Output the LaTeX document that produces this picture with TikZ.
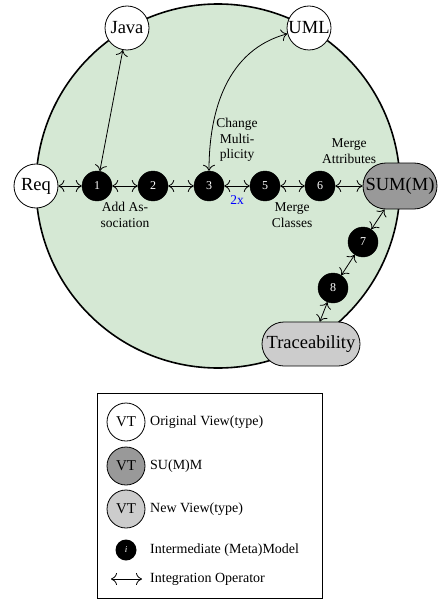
\documentclass[tikz,border=0pt]{standalone}
\usepackage{fontspec}
\setmainfont{Liberation Serif}
\usetikzlibrary{arrows.meta}
\definecolor{bggreen}{HTML}{D5E8D4}
\definecolor{summ}{HTML}{999999}
\definecolor{newv}{HTML}{CCCCCC}
\begin{document}
\begin{tikzpicture}[x=1pt,y=1pt,
  >={Computer Modern Rightarrow[length=6pt,width=12pt]},
  view/.style={circle,draw,fill=white,line width=0.8pt,minimum size=44pt,inner sep=0pt,font=\fontsize{18.5}{20}\selectfont},
  inter/.style={circle,fill=black,draw=black,minimum size=30pt,inner sep=0pt,text=white,font=\fontsize{12}{14}\selectfont},
  pill/.style={rectangle,draw,line width=0.8pt,inner sep=0pt,font=\fontsize{18.5}{20}\selectfont},
  conn/.style={<->,line width=0.8pt},
  elabel/.style={font=\fontsize{13.5}{15.5}\selectfont,align=center,inner sep=0pt},
  legtext/.style={anchor=west,font=\fontsize{14}{16}\selectfont,inner sep=0pt},
  legview/.style={circle,draw,line width=0.8pt,minimum size=38pt,inner sep=0pt,font=\fontsize{15}{17}\selectfont}
]
\useasboundingbox (0,0) rectangle (441,-604);
\draw[fill=bggreen,line width=1.6pt] (218,-186) circle[radius=182pt];

\node[view] (req) at (36,-186) {Req};
\node[view] (java) at (127,-28) {Java};
\node[view] (uml) at (309,-28) {UML};
\node[pill,fill=summ,minimum width=74pt,minimum height=46pt,rounded corners=23pt] (sum) at (400,-186) {SUM(M)};
\node[pill,fill=newv,minimum width=98pt,minimum height=44pt,rounded corners=22pt] (trace) at (311,-344) {Traceability};

\node[inter] (n1) at (97,-186) {1};
\node[inter] (n2) at (153,-186) {2};
\node[inter] (n3) at (209,-186) {3};
\node[inter] (n5) at (265,-186) {5};
\node[inter] (n6) at (320,-186) {6};
\node[inter] (n7) at (363,-242) {7};
\node[inter] (n8) at (333,-288) {8};

\draw[conn] (req) -- (n1);
\draw[conn] (n1) -- (n2);
\draw[conn] (n2) -- (n3);
\draw[conn] (n3) -- (n5);
\draw[conn] (n5) -- (n6);
\draw[conn] (n6) -- (sum);
\draw[conn] (sum) -- (n7);
\draw[conn] (n7) -- (n8);
\draw[conn] (n8) -- (trace);
\draw[conn] (java) -- (n1);
\draw[conn] (n3) to[out=90,in=195] (uml);

\node[elabel] (lab1) at (125,-215) {Add As-\\sociation};
\node[elabel,text=blue] (lab2) at (237,-200) {2x};
\node[elabel] (lab3) at (292,-215) {Merge\\Classes};
\node[elabel] (lab4) at (237,-140) {Change\\Multi-\\plicity};
\node[elabel] (lab5) at (349,-151) {Merge\\Attributes};

\node[draw,line width=0.7pt,minimum width=225pt,minimum height=205pt,inner sep=0pt] (legend) at (209.5,-495.5) {};
\node[legview,fill=white] (l1) at (126,-422) {VT};
\node[legtext] (t1) at (150,-422) {Original View(type)};
\node[legview,fill=summ] (l2) at (126,-466) {VT};
\node[legtext] (t2) at (150,-466) {SU(M)M};
\node[legview,fill=newv] (l3) at (126,-509) {VT};
\node[legtext] (t3) at (150,-509) {New View(type)};
\node[circle,fill=black,minimum size=21pt,inner sep=0pt,text=white,font=\fontsize{9}{10}\selectfont\itshape] (l4) at (126,-550) {i};
\node[legtext] (t4) at (150,-550) {Intermediate (Meta)Model};
\coordinate (a1) at (111,-579);
\coordinate (a2) at (142,-579);
\draw[conn] (a1) -- (a2);
\node[legtext] (t5) at (150,-579) {Integration Operator};
\end{tikzpicture}
\end{document}
